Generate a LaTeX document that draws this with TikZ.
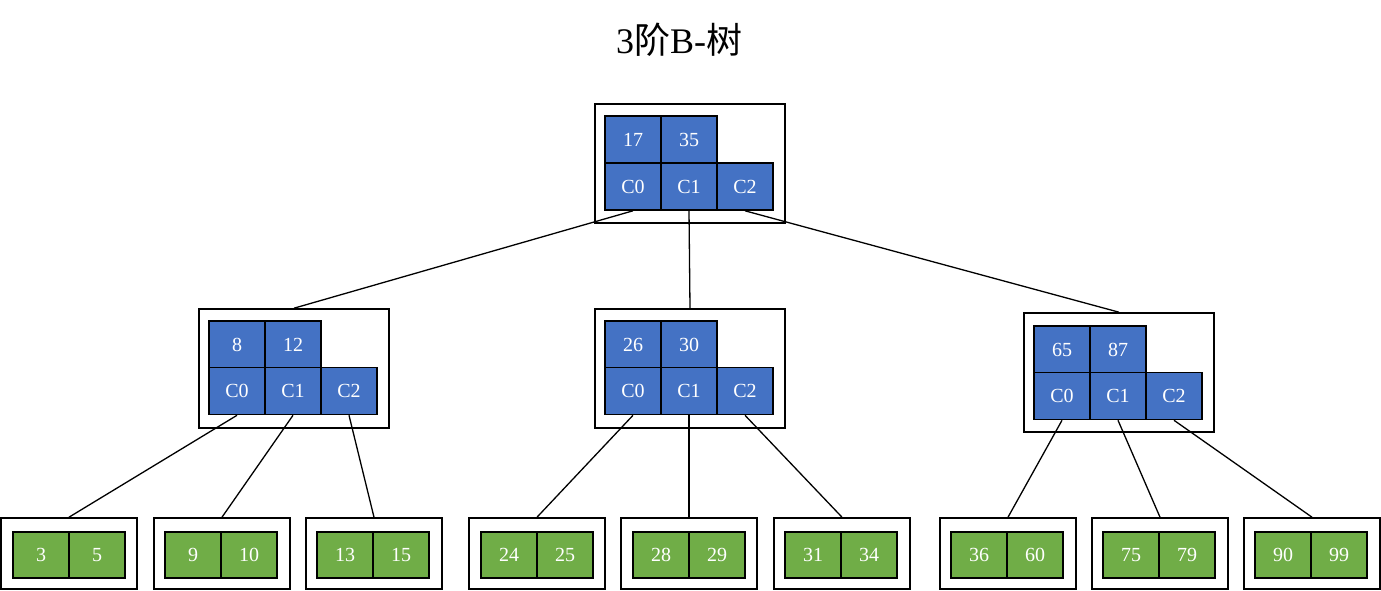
\documentclass[tikz,border=0pt]{standalone}
\usepackage{fontspec}
\setmainfont{Liberation Serif}
\newfontfamily\cjk{Noto Sans CJK SC}
\definecolor{keyblue}{HTML}{4472C4}
\definecolor{leafgreen}{HTML}{70AD47}
\tikzset{
    outerbox/.style={draw, line width=1.6pt, minimum width=190pt, minimum height=119pt, inner sep=0pt},
    leafbox/.style={draw, line width=1.6pt, minimum width=136pt, minimum height=71pt, inner sep=0pt},
    keycell/.style={draw, fill=keyblue, text=white, line width=1.6pt, minimum width=56pt, minimum height=47pt, inner sep=0pt, font=\fontsize{20}{23}\selectfont},
    leafcell/.style={keycell, fill=leafgreen, minimum height=46pt},
    branch/.style={line width=1.3pt}
}
\begin{document}
\begin{tikzpicture}[x=1pt, y=-1pt]
            \useasboundingbox (0,0) rectangle (1381,591);
            \node (title) at (679,40) {\fontsize{36}{40}\selectfont 3{\cjk 阶}B-{\cjk 树}};

            % root
            \node[outerbox] (root) at (690,163.5) {};
            \node[keycell] (rk0) at (633,139.5) {17};
            \node[keycell] (rk1) at (689,139.5) {35};
            \node[keycell] (rc0) at (633,186.5) {C0};
            \node[keycell] (rc1) at (689,186.5) {C1};
            \node[keycell] (rc2) at (745,186.5) {C2};

            % second level
            \node[outerbox] (lft) at (294,368.5) {};
            \node[keycell] (lk0) at (237,344.5) {8};
            \node[keycell] (lk1) at (293,344.5) {12};
            \node[keycell] (lc0) at (237,391) {C0};
            \node[keycell] (lc1) at (293,391) {C1};
            \node[keycell] (lc2) at (349,391) {C2};

            \node[outerbox] (mid) at (690,368.5) {};
            \node[keycell] (mk0) at (633,344.5) {26};
            \node[keycell] (mk1) at (689,344.5) {30};
            \node[keycell] (mc0) at (633,391) {C0};
            \node[keycell] (mc1) at (689,391) {C1};
            \node[keycell] (mc2) at (745,391) {C2};

            \node[outerbox] (rgt) at (1119,372.5) {};
            \node[keycell] (gk0) at (1062,349.5) {65};
            \node[keycell] (gk1) at (1118,349.5) {87};
            \node[keycell] (gc0) at (1062,396) {C0};
            \node[keycell] (gc1) at (1118,396) {C1};
            \node[keycell] (gc2) at (1174,396) {C2};

            % leaves
            \node[leafbox] (leaf1) at (69,553.5) {};
            \node[leafcell] at (41,555) {3};
            \node[leafcell] at (97,555) {5};
            \node[leafbox] (leaf2) at (222,553.5) {};
            \node[leafcell] at (193,555) {9};
            \node[leafcell] at (249,555) {10};
            \node[leafbox] (leaf3) at (374,553.5) {};
            \node[leafcell] at (345,555) {13};
            \node[leafcell] at (401,555) {15};
            \node[leafbox] (leaf4) at (537,553.5) {};
            \node[leafcell] at (509,555) {24};
            \node[leafcell] at (565,555) {25};
            \node[leafbox] (leaf5) at (689,553.5) {};
            \node[leafcell] at (661,555) {28};
            \node[leafcell] at (717,555) {29};
            \node[leafbox] (leaf6) at (842,553.5) {};
            \node[leafcell] at (813,555) {31};
            \node[leafcell] at (869,555) {34};
            \node[leafbox] (leaf7) at (1008,553.5) {};
            \node[leafcell] at (979,555) {36};
            \node[leafcell] at (1035,555) {60};
            \node[leafbox] (leaf8) at (1160,553.5) {};
            \node[leafcell] at (1131,555) {75};
            \node[leafcell] at (1187,555) {79};
            \node[leafbox] (leaf9) at (1312,553.5) {};
            \node[leafcell] at (1283,555) {90};
            \node[leafcell] at (1339,555) {99};

            % branches
            \draw[branch] (rc0.south) -- (lft.north);
            \draw[branch] (rc1.south) -- (mid.north);
            \draw[branch] (rc2.south) -- (rgt.north);
            \draw[branch] (lc0.south) -- (leaf1.north);
            \draw[branch] (lc1.south) -- (leaf2.north);
            \draw[branch] (lc2.south) -- (leaf3.north);
            \draw[branch] (mc0.south) -- (leaf4.north);
            \draw[branch] (mc1.south) -- (leaf5.north);
            \draw[branch] (mc2.south) -- (leaf6.north);
            \draw[branch] (gc0.south) -- (leaf7.north);
            \draw[branch] (gc1.south) -- (leaf8.north);
            \draw[branch] (gc2.south) -- (leaf9.north);
        \end{tikzpicture}
\end{document}
